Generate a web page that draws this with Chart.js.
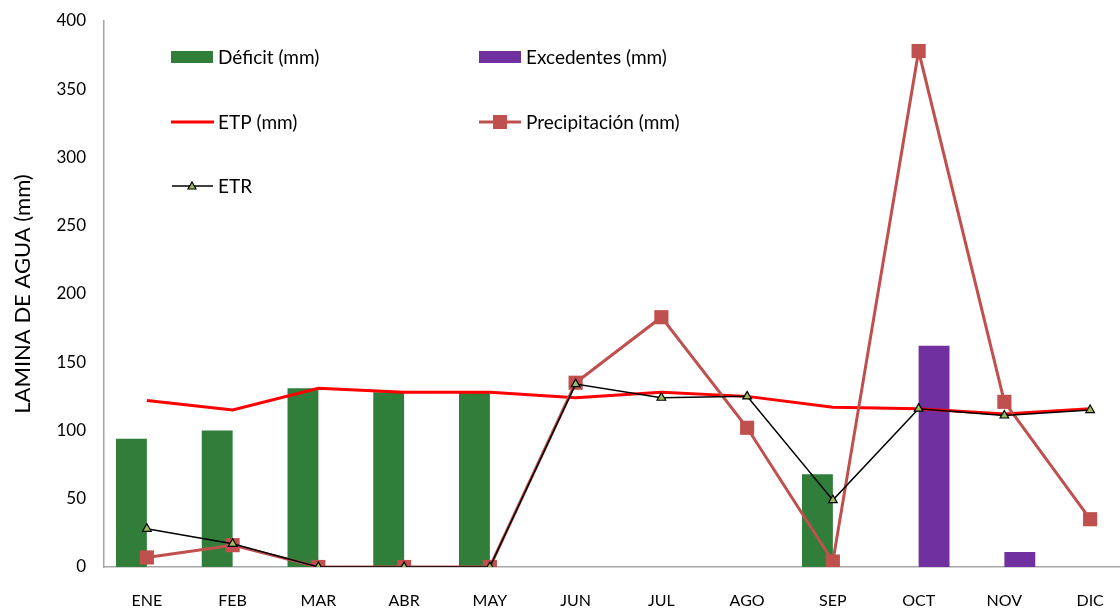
<!DOCTYPE html>
<html>
<head>
<meta charset="utf-8">
<script src="https://cdn.jsdelivr.net/npm/chart.js@4/dist/chart.umd.min.js"></script>
<style>
  html, body { margin: 0; padding: 0; background: #fff; overflow: hidden; }
  #wrap { width: 1160px; height: 609px; }
</style>
</head>
<body>
<div id="wrap"><canvas id="c" width="1160" height="609"></canvas></div>
<script>
// Balance hídrico mensual (mm)
const meses = ['ENE', 'FEB', 'MAR', 'ABR', 'MAY', 'JUN', 'JUL', 'AGO', 'SEP', 'OCT', 'NOV', 'DIC'];
const deficit = [94, 100, 131, 128, 128, 0, 0, 0, 68, 0, 0, 0];
const excedentes = [0, 0, 0, 0, 0, 0, 0, 0, 0, 162, 11, 0];
const etp = [122, 115, 131, 128, 128, 124, 128, 125, 117, 116, 112, 116];
const precipitacion = [7, 16, 0, 0, 0, 135, 183, 102, 4, 378, 121, 35];
const etr = [28, 17, 0, 0, 0, 134, 124, 125, 49, 116, 111, 115];
const yTicks = [0, 50, 100, 150, 200, 250, 300, 350, 400];

const FONT = 'Lato, "Open Sans", sans-serif';
const VERDE = '#317d3a';
const MORADO = '#7030a0';
const ROJO_PP = '#c0504d';

// Soft-edged green fill for the deficit bars
function verdeSuave(ctx) {
  const el = ctx.element;
  const c = ctx.chart.ctx;
  if (!el || el.x === undefined || !el.width) return VERDE;
  const x0 = el.x - el.width / 2, x1 = el.x + el.width / 2;
  const g = c.createLinearGradient(x0, 0, x1, 0);
  g.addColorStop(0, '#bfe3c4');
  g.addColorStop(0.1, VERDE);
  g.addColorStop(0.9, VERDE);
  g.addColorStop(1, '#bfe3c4');
  return g;
}

// Legend drawn inside the plot area, two columns by three rows
const leyenda = {
  id: 'leyenda',
  afterDraw(chart) {
    const c = chart.ctx;
    c.save();
    c.font = '19px ' + FONT;
    c.fillStyle = '#000';
    c.textBaseline = 'middle';
    c.textAlign = 'left';
    const items = [
      { x: 171, y: 57, tipo: 'barra', color: VERDE, txt: 'Déficit (mm)' },
      { x: 479, y: 57, tipo: 'barra', color: MORADO, txt: 'Excedentes (mm)' },
      { x: 171, y: 122, tipo: 'etp', txt: 'ETP (mm)' },
      { x: 479, y: 122, tipo: 'pp', txt: 'Precipitación (mm)' },
      { x: 171, y: 186, tipo: 'etr', txt: 'ETR' }
    ];
    items.forEach(it => {
      if (it.tipo === 'barra') {
        c.fillStyle = it.color;
        c.fillRect(it.x, it.y - 6, 42, 12);
      } else if (it.tipo === 'etp') {
        c.strokeStyle = '#ff0000';
        c.lineWidth = 3;
        c.beginPath(); c.moveTo(it.x, it.y); c.lineTo(it.x + 43, it.y); c.stroke();
      } else if (it.tipo === 'pp') {
        c.strokeStyle = ROJO_PP;
        c.lineWidth = 3;
        c.beginPath(); c.moveTo(it.x, it.y); c.lineTo(it.x + 42, it.y); c.stroke();
        c.fillStyle = ROJO_PP;
        c.fillRect(it.x + 14, it.y - 7, 14, 14);
      } else if (it.tipo === 'etr') {
        c.strokeStyle = '#000';
        c.lineWidth = 1.5;
        c.beginPath(); c.moveTo(it.x + 1, it.y); c.lineTo(it.x + 42, it.y); c.stroke();
        const cx = it.x + 21;
        c.beginPath();
        c.moveTo(cx, it.y - 4); c.lineTo(cx + 4, it.y + 3); c.lineTo(cx - 4, it.y + 3); c.closePath();
        c.fillStyle = '#9bbb59'; c.fill();
        c.lineWidth = 1.2; c.stroke();
      }
      c.fillStyle = '#000';
      c.fillText(it.txt, it.x + 47, it.y + 1);
    });
    c.restore();
  }
};

new Chart(document.getElementById('c'), {
  data: {
    labels: meses,
    datasets: [
      {
        type: 'line', label: 'ETR', data: etr, order: 0,
        borderColor: '#000', borderWidth: 1.5, tension: 0,
        pointStyle: 'triangle', pointRadius: 5,
        pointBackgroundColor: '#9bbb59', pointBorderColor: '#000', pointBorderWidth: 1.2
      },
      {
        type: 'line', label: 'Precipitación (mm)', data: precipitacion, order: 1,
        borderColor: ROJO_PP, borderWidth: 3, tension: 0,
        pointStyle: 'rect', pointRadius: 10,
        pointBackgroundColor: ROJO_PP, pointBorderColor: ROJO_PP, pointBorderWidth: 0
      },
      {
        type: 'line', label: 'ETP (mm)', data: etp, order: 2,
        borderColor: '#ff0000', borderWidth: 3, tension: 0, pointRadius: 0
      },
      {
        type: 'bar', label: 'Déficit (mm)', data: deficit, order: 3,
        backgroundColor: verdeSuave, borderWidth: 0,
        categoryPercentage: 0.72, barPercentage: 1.0
      },
      {
        type: 'bar', label: 'Excedentes (mm)', data: excedentes, order: 4,
        backgroundColor: MORADO, borderWidth: 0,
        categoryPercentage: 0.72, barPercentage: 1.0
      }
    ]
  },
  options: {
    responsive: false,
    animation: false,
    layout: { autoPadding: false, padding: { top: 21, right: 27, left: 0, bottom: 0 } },
    plugins: { legend: { display: false }, tooltip: { enabled: false } },
    scales: {
      x: {
        grid: { display: false, drawTicks: false },
        border: { color: '#a6a6a6', width: 1.5 },
        ticks: { color: '#000', font: { family: FONT, size: 16 }, padding: 24, maxRotation: 0 },
        afterFit(s) { s.height = 42; s.paddingLeft = 0; s.paddingRight = 0; }
      },
      y: {
        min: 0, max: 400,
        afterBuildTicks(s) { s.ticks = yTicks.map(v => ({ value: v })); },
        grid: { display: false, drawTicks: false },
        border: { color: '#a6a6a6', width: 1.5 },
        ticks: { color: '#000', font: { family: FONT, size: 17 }, padding: 18 },
        title: {
          display: true, text: 'LAMINA DE AGUA (mm)', color: '#000',
          font: { family: FONT, size: 22 }, padding: { top: 10, bottom: 4 }
        },
        afterFit(s) { s.width = 104; s.paddingTop = 0; s.paddingBottom = 0; }
      }
    }
  },
  plugins: [leyenda]
});
</script>
</body>
</html>
